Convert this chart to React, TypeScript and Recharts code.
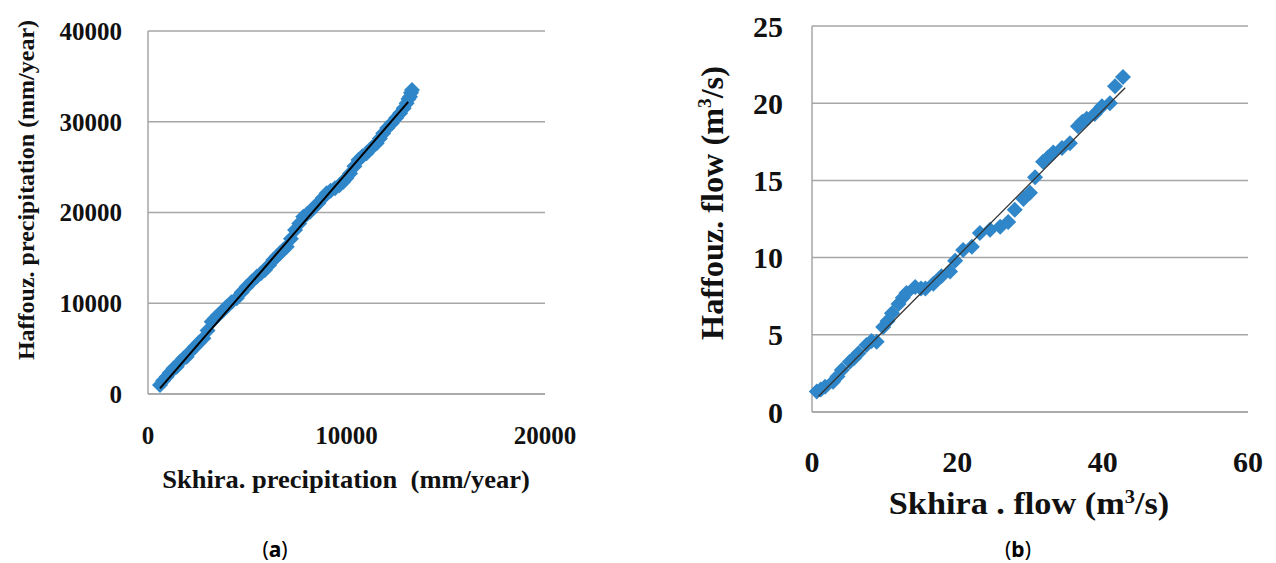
import React from 'react'
import { ScatterChart, Scatter, XAxis, YAxis, CartesianGrid } from 'recharts'

// (a) precipitation, mm/year
const precipSkhira = [
  605, 760, 940, 1100, 1280, 1445, 1600, 1780, 1950, 2150, 2370, 2560, 2790, 3000, 3210, 3380,
  3540, 3750, 3960, 4200, 4470, 4720, 4970, 5230, 5480, 5690, 5890, 6100, 6310, 6480, 6650, 6820,
  6990, 7200, 7410, 7620, 7820, 8000, 8160, 8380, 8580, 8800, 9000, 9200, 9420, 9640, 9840, 10000,
  10180, 10400, 10600, 10800, 11010, 11260, 11520, 11680, 11850, 12050, 12280, 12500, 12700, 12880,
  13030, 13120, 13200, 13250, 13300,
]
const precipHaffouz = [
  992, 1450, 1910, 2350, 2800, 3010, 3500, 3900, 4110, 4700, 5210, 5650, 6130, 7000, 7970, 8350,
  8700, 9150, 9620, 10100, 10540, 11200, 11820, 12400, 12930, 13300, 13660, 14200, 14770, 15150, 15500, 15900,
  16230, 17100, 18070, 18800, 19540, 19800, 20090, 20600, 21010, 21600, 22110, 22400, 22670, 23000, 23390, 23800,
  24310, 25100, 25790, 26200, 26520, 27100, 27620, 28150, 28720, 29300, 29830, 30400, 30930, 31500,
  32030, 32500, 32760, 33200, 33500,
]
const precipTrendX = [605, 13110]
const precipTrendY = [620, 32200]
const precipXTicks = [0, 10000, 20000]
const precipYTicks = [0, 10000, 20000, 30000, 40000]

// (b) flow, m3/s
const flowSkhira = [
  0.65, 1.2, 1.8, 2.9, 3.5, 4.1, 5.2, 5.8, 6.4, 7.5, 8.2, 8.9, 9.8, 10.4, 11.0, 11.9,
  12.5, 13.0, 14.2, 15.0, 15.6, 16.7, 17.8, 19.0, 19.7, 20.8, 22.0, 23.1, 24.5, 25.9, 27.0, 27.9,
  29.1, 30.0, 30.7, 31.8, 32.5, 33.2, 34.4, 35.5, 36.6, 37.2, 37.8, 38.9, 39.9, 41.0, 41.7, 42.8,
]
const flowHaffouz = [
  1.32, 1.45, 1.64, 1.96, 2.3, 2.72, 3.26, 3.5, 3.8, 4.34, 4.6, 4.55, 5.5, 5.9, 6.4, 7.0,
  7.4, 7.7, 8.1, 8.0, 8.0, 8.3, 8.8, 9.1, 9.8, 10.5, 10.7, 11.6, 11.8, 12.0, 12.3, 13.1,
  13.8, 14.2, 15.2, 16.2, 16.5, 16.8, 17.1, 17.4, 18.5, 18.8, 19.0, 19.3, 19.8, 20.0, 21.1, 21.7,
]
const flowTrendX = [0.87, 43.1]
const flowTrendY = [1.0, 21.0]
const flowXTicks = [0, 20, 40, 60]
const flowYTicks = [0, 5, 10, 15, 20, 25]

const zip = (xs: number[], ys: number[]) => xs.map((x, i) => ({ x, y: ys[i] }))

const BLUE = '#2F86C8'
const GRID = '#a6a6a6'
const SERIF = '"Liberation Serif", "Times New Roman", serif'

function Diamond(props: any) {
  const { cx, cy, r = 7 } = props
  if (cx == null || cy == null) return null
  return <polygon points={`${cx},${cy - r} ${cx + r},${cy} ${cx},${cy + r} ${cx - r},${cy}`} fill={BLUE} />
}

const txt = (size: number): React.CSSProperties => ({
  position: 'absolute',
  fontFamily: SERIF,
  fontWeight: 'bold',
  fontSize: size,
  color: '#111',
  whiteSpace: 'nowrap',
  lineHeight: 1,
})

function Caption({ letter, x, y }: { letter: string; x: number; y: number }) {
  return (
    <div style={{ position: 'absolute', left: x, top: y, transform: 'translate(-50%, -50%)', fontFamily: '"Noto Sans", sans-serif', fontSize: 21, color: '#000' }}>
      (<b>{letter}</b>)
    </div>
  )
}

export default function App() {
  const precip = zip(precipSkhira, precipHaffouz)
  const precipTrend = zip(precipTrendX, precipTrendY)
  const flow = zip(flowSkhira, flowHaffouz)
  const flowTrend = zip(flowTrendX, flowTrendY)

  const tickA = { fontSize: 25, fontFamily: SERIF, fontWeight: 'bold', fill: '#111' }
  const tickB = { fontSize: 30, fontFamily: SERIF, fontWeight: 'bold', fill: '#111' }

  return (
    <div style={{ position: 'absolute', left: 0, top: 0, width: 1276, height: 563, background: '#fff', overflow: 'hidden' }}>
      <div style={{ position: 'absolute', left: 0, top: 0 }}>
        <ScatterChart width={600} height={520} margin={{ top: 31, right: 55, bottom: 66, left: 0 }}>
          <CartesianGrid vertical={false} stroke={GRID} strokeWidth={1.5} />
          <XAxis
            type="number" dataKey="x" domain={[0, 20000]} ticks={precipXTicks} height={60}
            axisLine={{ stroke: GRID, strokeWidth: 1.5 }} tickLine={false} tickSize={0} tickMargin={32}
            tick={tickA} interval={0}
          />
          <YAxis
            type="number" dataKey="y" domain={[0, 40000]} ticks={precipYTicks} width={148}
            axisLine={{ stroke: GRID, strokeWidth: 1.5 }} tickLine={false} tickSize={0} tickMargin={26}
            tick={tickA} interval={0}
          />
          <Scatter data={precip} shape={(p: any) => <Diamond {...p} r={8} />} isAnimationActive={false} />
          <Scatter data={precipTrend} line={{ stroke: '#000', strokeWidth: 2 }} shape={() => <g />} isAnimationActive={false} />
        </ScatterChart>
      </div>

      <div style={{ position: 'absolute', left: 660, top: 0 }}>
        <ScatterChart width={616} height={520} margin={{ top: 26, right: 28, bottom: 48, left: 0 }}>
          <CartesianGrid vertical={false} stroke={GRID} strokeWidth={1.5} />
          <XAxis
            type="number" dataKey="x" domain={[0, 60]} ticks={flowXTicks} height={60}
            axisLine={{ stroke: GRID, strokeWidth: 1.5 }} tickLine={false} tickSize={0} tickMargin={39}
            tick={tickB} interval={0}
          />
          <YAxis
            type="number" dataKey="y" domain={[0, 25]} ticks={flowYTicks} width={152}
            axisLine={{ stroke: GRID, strokeWidth: 1.5 }} tickLine={false} tickSize={0} tickMargin={29}
            tick={tickB} interval={0}
          />
          <Scatter data={flow} shape={(p: any) => <Diamond {...p} r={8} />} isAnimationActive={false} />
          <Scatter data={flowTrend} line={{ stroke: '#333', strokeWidth: 1.3 }} shape={() => <g />} isAnimationActive={false} />
        </ScatterChart>
      </div>

      {/* axis titles */}
      <div style={{ ...txt(24), left: 26, top: 190, transform: 'translate(-50%, -50%) rotate(-90deg)' }}>
        Haffouz. precipitation (mm/year)
      </div>
      <div style={{ ...txt(25), left: 346, top: 479, transform: 'translate(-50%, -50%) scaleX(1.06)' }}>
        Skhira. precipitation&nbsp; (mm/year)
      </div>
      <div style={{ ...txt(31), left: 712, top: 203, transform: 'translate(-50%, -50%) rotate(-90deg) scaleX(1.04)' }}>
        Haffouz. flow (m<sup style={{ fontSize: '0.6em' }}>3</sup>/s)
      </div>
      <div style={{ ...txt(32), left: 1029, top: 503, transform: 'translate(-50%, -50%) scaleX(1.07)' }}>
        Skhira . flow (m<sup style={{ fontSize: '0.6em' }}>3</sup>/s)
      </div>

      <Caption letter="a" x={275} y={549} />
      <Caption letter="b" x={1018} y={549} />
    </div>
  )
}
